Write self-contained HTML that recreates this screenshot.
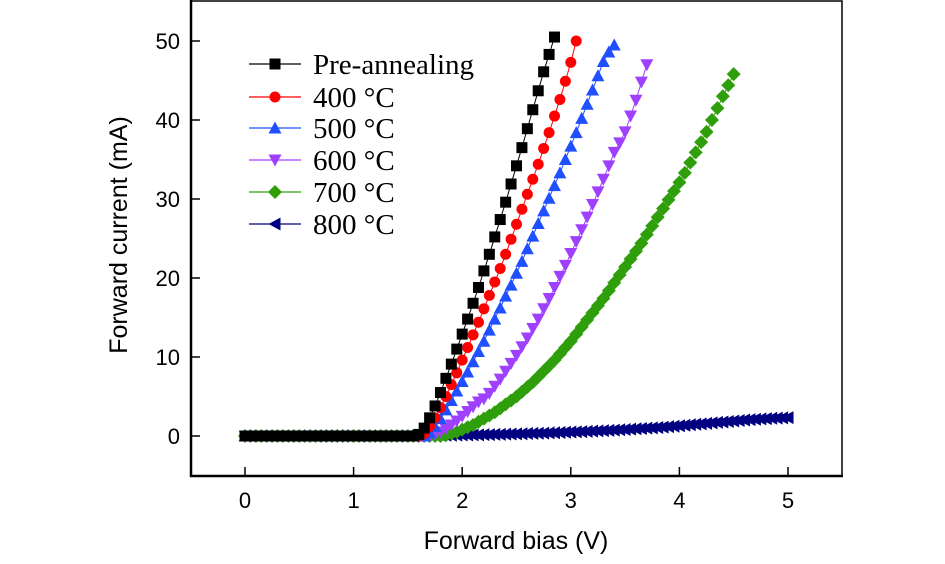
<!DOCTYPE html>
<html><head><meta charset="utf-8"><style>
body{margin:0;background:#fff}
svg{display:block}
.tk{font-family:"Liberation Sans",sans-serif;font-size:22px;fill:#000}
.lg{font-family:"Liberation Serif",serif;font-size:29px;fill:#000}
.tt{font-family:"Liberation Sans",sans-serif;font-size:25px;fill:#000}
</style></head><body>
<svg id="c" width="945" height="564" xmlns="http://www.w3.org/2000/svg"></svg>
<script>
const xStep = 0.05;
const xTicks = [0,1,2,3,4,5];
const yTicks = [0,10,20,30,40,50];
const seriesNames = ["Pre-annealing","400 °C","500 °C","600 °C","700 °C","800 °C"];
const z = n => Array(n).fill(0);
const preAnnealing = z(32).concat([0.2,1.0,2.3,3.8,5.5,7.3,9.1,11,12.9,14.8,16.8,18.8,20.9,23,25.2,27.4,29.6,31.9,34.2,36.5,38.9,41.3,43.7,46.1,48.3,50.5]);
const t400 = z(33).concat([0.3,1.2,2.3,3.6,5,6.5,8,9.6,11.2,12.8,14.4,16.1,17.8,19.5,21.2,23,24.9,26.8,28.7,30.6,32.5,34.4,36.4,38.4,40.5,42.6,44.9,47.3,50]);
const t500 = z(34).concat([0.4,1.2,2.2,3.3,4.5,5.7,6.9,8.1,9.4,10.7,12,13.4,14.8,16.2,17.7,19.1,20.6,22.1,23.7,25.3,26.9,28.5,30.1,31.7,33.3,35,36.7,38.4,40.2,42,43.8,45.6,47.4,48.6,49.5]);
const t600 = z(35).concat([0.2,0.5,0.9,1.4,1.9,2.5,3.1,3.7,4.3,4.7,5.4,6.3,7.2,8.2,9.2,10.2,11.3,12.4,13.6,14.8,16.1,17.4,18.8,20.2,21.6,23.1,24.6,26.1,27.7,29.3,30.9,32.5,34.2,35.9,37.1,38.5,40.5,42.5,44.8,47]);
const t700 = z(37).concat([0.1,0.3,0.5,0.8,1.1,1.4,1.8,2.2,2.6,3.0,3.5,4.0,4.5,5.0,5.6,6.2,6.8,7.5,8.2,8.9,9.6,10.4,11.2,12.0,12.9,13.8,14.7,15.6,16.5,17.4,18.4,19.4,20.4,21.4,22.4,23.4,24.4,25.5,26.6,27.7,28.8,29.9,31,32.1,33.3,34.6,35.9,37.2,38.5,40,41.5,43,44.4,45.8]);
const t800 = z(30).concat([0.02,0.03,0.04,0.05,0.06,0.07,0.08,0.09,0.1,0.11,0.12,
0.13,0.14,0.15,0.17,0.18,0.2,0.21,0.23,0.25,0.27,0.29,0.31,0.33,0.35,0.37,0.39,0.41,0.44,0.47,0.5,
0.53,0.56,0.59,0.62,0.65,0.68,0.71,0.75,0.79,0.83,0.87,0.91,0.95,0.99,1.03,1.08,1.13,1.18,1.24,1.3,
1.36,1.42,1.48,1.54,1.6,1.66,1.72,1.78,1.84,1.9,1.96,2.02,2.07,2.12,2.16,2.2,2.24,2.27,2.3,2.33]);
const allSeries = [preAnnealing,t400,t500,t600,t700,t800];
const colors = ["#000000","#ff0000","#1f4fff","#a040ff","#2e9e0a","#000080"];
const shapes = ["square","circle","up","down","diamond","left"];

const svg = document.getElementById('c');
const NS = "http://www.w3.org/2000/svg";
const X0=245, XS=108.6, Y0=436, YS=7.9;
const sx = v => X0 + v*XS;
const sy = v => Y0 - v*YS;
function mk(tag, attrs, parent){const e=document.createElementNS(NS,tag);for(const k in attrs)e.setAttribute(k,attrs[k]);(parent||svg).appendChild(e);return e;}
function marker(shape,x,y,col,g){
  const s=5.5;let e;
  if(shape==="square") e=mk('rect',{x:x-s,y:y-s,width:2*s,height:2*s,fill:col},g);
  else if(shape==="circle") e=mk('circle',{cx:x,cy:y,r:s,fill:col},g);
  else { let p;
    if(shape==="up") p=[[x,y-s-1],[x+s+1,y+s],[x-s-1,y+s]];
    else if(shape==="down") p=[[x,y+s+1],[x+s+1,y-s],[x-s-1,y-s]];
    else if(shape==="diamond") p=[[x,y-s-1.5],[x+s+1.5,y],[x,y+s+1.5],[x-s-1.5,y]];
    else p=[[x-s-1,y],[x+s,y-s-1],[x+s,y+s+1]];
    e=mk('polygon',{points:p.map(q=>q.join(',')).join(' '),fill:col},g);}
  return e;
}
const frame=mk('rect',{x:191,y:1,width:651,height:475,fill:'none',stroke:'#000','stroke-width':1.5});


mk('line',{x1:191,y1:0,x2:191,y2:477,stroke:'#000','stroke-width':2.5});
mk('line',{x1:190,y1:476,x2:843,y2:476,stroke:'#000','stroke-width':2.5});
xTicks.forEach(v=>{
  const t=mk('line',{x1:sx(v),y1:476,x2:sx(v),y2:467,stroke:'#000','stroke-width':1.5});
  
  
  const l=mk('text',{x:sx(v),y:508,'text-anchor':'middle',class:'tk'});l.textContent=v;
  
  
});
yTicks.forEach(v=>{
  const t=mk('line',{x1:191,y1:sy(v),x2:200,y2:sy(v),stroke:'#000','stroke-width':1.5});
  
  
  const l=mk('text',{x:180,y:sy(v)+8,'text-anchor':'end',class:'tk'});l.textContent=v;
  
  
});
const xt=mk('text',{x:516,y:549,'text-anchor':'middle',class:'tt'});xt.textContent='Forward bias (V)';


const yt=mk('text',{x:0,y:0,'text-anchor':'middle',class:'tt',transform:'translate(127,235) rotate(-90)'});yt.textContent='Forward current (mA)';


for(let i=allSeries.length-1;i>=0;i--){
  const g=mk('g',{});
  
  
  const d=allSeries[i];
  mk('polyline',{points:d.map((v,k)=>sx(k*xStep)+','+sy(v)).join(' '),fill:'none',stroke:colors[i],'stroke-width':1},g);
  d.forEach((v,k)=>{const m=marker(shapes[i],sx(k*xStep),sy(v),colors[i],g);
    
    });
}
const rows=[64,97,128,160,192,224];
seriesNames.forEach((n,i)=>{
  const g=mk('g',{});
  
  
  mk('line',{x1:249,y1:rows[i],x2:301,y2:rows[i],stroke:colors[i],'stroke-width':1.2},g);
  marker(shapes[i],275,rows[i],colors[i],g);
  const t=mk('text',{x:313,y:rows[i]+10,class:'lg'},g);t.textContent=n;
});
</script>
</body></html>
